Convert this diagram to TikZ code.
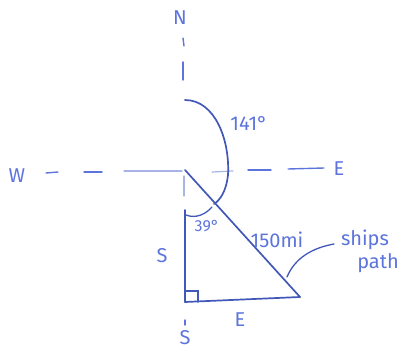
\documentclass[tikz,border=0pt]{standalone}
\usepackage{fontspec}
\setmainfont{Fira Sans}
\begin{document}
\begin{tikzpicture}[x=1pt,y=-1pt,
  ink/.style={draw=inkc,line width=1.7pt,line cap=round},
  faint/.style={draw=faintc,line width=1.2pt,line cap=round},
  dashseg/.style={draw=textc,line width=1.4pt,line cap=round},
  lbl/.style={text=textc,font=\fontsize{20}{20}\selectfont,inner sep=0pt}]
\definecolor{inkc}{HTML}{4258B8}
\definecolor{textc}{HTML}{5C74DC}
\definecolor{faintc}{HTML}{A8B4E4}
\useasboundingbox (0,0) rectangle (413,350);
% key points
\coordinate (O) at (185,170);
\coordinate (P) at (300,297);
\coordinate (R) at (185,302);
% compass labels
\node[lbl] (N) at (180,18) {N};
\node[lbl] (W) at (17,176) {W};
\node[lbl] (E1) at (339,169) {E};
\node[lbl] (S2) at (185,338) {S};
% north dashes
\draw[dashseg] (183,38) -- (184,46);
\draw[dashseg] (183,62) -- (183,80);
% west dashes
\draw[dashseg] (46,173) -- (58,172);
\draw[dashseg] (84,172) -- (102,172);
\draw[faint] (124,171) -- (182,171);
% east dashes
\draw[faint] (212,172) -- (233,171);
\draw[dashseg] (248,170) -- (271,170);
\draw[dashseg] (288,169) -- (324,168);
% faint south of origin
\draw[faint] (184,176) -- (184,196);
% vertical S side
\draw[ink] (185,210) -- (R);
% bottom E side
\draw[ink] (R) -- (P);
% hypotenuse
\draw[ink] (O) -- (P);
% right angle mark
\draw[ink,line width=1.3pt] (185,291) -- (198,291) -- (198,302);
% 141 arc
\draw[ink] (185,100) .. controls (215,100) and (230,140) .. (228,175) .. controls (226,192) and (220,200) .. (214,204);
% 39 arc
\draw[ink,line width=1.3pt] (186,215) .. controls (196,219) and (206,214) .. (212,207);
% labels
\node[lbl] (a141) at (249,123) {141°};
\node[lbl,font=\fontsize{16}{16}\selectfont] (a39) at (207,226) {39°};
\node[lbl] (d150) at (277,240) {150mi};
\node[lbl] (S1) at (162,256) {S};
\node[lbl] (E2) at (240,320) {E};
\draw[dashseg] (185,320) -- (185,325);
% ships path
\node[lbl] (sp1) at (365,240) {ships};
\node[lbl] (sp2) at (378,263) {path};
\draw[ink,line width=1.3pt] (287,277) .. controls (295,258) and (312,248) .. (334,244);
\end{tikzpicture}
\end{document}
